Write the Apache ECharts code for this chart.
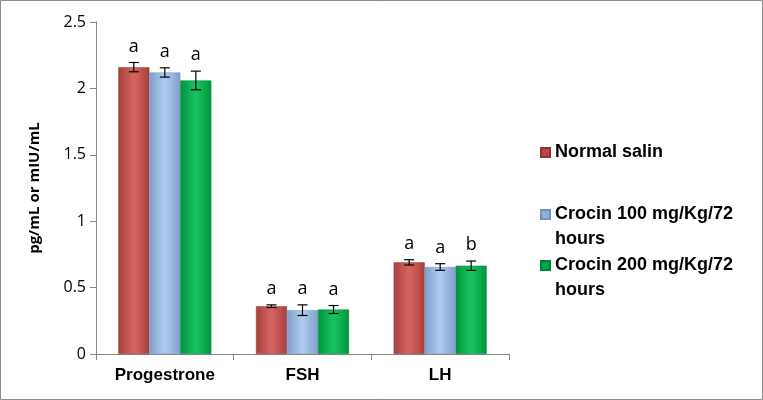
<!DOCTYPE html>
<html>
<head>
<meta charset="utf-8">
<script src="https://cdn.jsdelivr.net/npm/echarts@6/dist/echarts.min.js"></script>
<style>
  html, body { margin: 0; padding: 0; background: #fff; }
  #chart { width: 763px; height: 400px; }
</style>
</head>
<body>
<div id="chart"></div>
<script>
// hormone groups
const categories = ['Progestrone', 'FSH', 'LH'];
const seriesNames = ['Normal salin', 'Crocin 100 mg/Kg/72\nhours', 'Crocin 200 mg/Kg/72\nhours'];

const salinValues = [2.16, 0.36, 0.69];
const crocin100Values = [2.12, 0.33, 0.655];
const crocin200Values = [2.06, 0.335, 0.665];

const salinErrors = [0.035, 0.01, 0.02];
const crocin100Errors = [0.035, 0.04, 0.025];
const crocin200Errors = [0.07, 0.03, 0.035];

const salinLetters = ['a', 'a', 'a'];
const crocin100Letters = ['a', 'a', 'a'];
const crocin200Letters = ['a', 'a', 'b'];

const yTicks = [0, 0.5, 1, 1.5, 2, 2.5];

const values = [salinValues, crocin100Values, crocin200Values];
const errors = [salinErrors, crocin100Errors, crocin200Errors];
const letters = [salinLetters, crocin100Letters, crocin200Letters];

const BAR_W = 31;

function barGradient(edge, mid) {
  return new echarts.graphic.LinearGradient(0, 0, 1, 0, [
    {offset: 0, color: edge},
    {offset: 0.45, color: mid},
    {offset: 0.55, color: mid},
    {offset: 1, color: edge}
  ]);
}
const colors = [
  barGradient('#a63f3c', '#d2625e'),
  barGradient('#7f9ec9', '#aac8f0'),
  barGradient('#00953c', '#16c05e')
];
const borderColors = ['#8f3532', '#7391bb', '#00843a'];
const legendColors = ['#b8474a', '#8fb0da', '#05a54a'];

const chart = echarts.init(document.getElementById('chart'));

let series = [];
values.forEach((vals, i) => {
  series.push({
    name: seriesNames[i],
    type: 'bar',
    barWidth: BAR_W,
    barGap: '0%',
    itemStyle: {color: colors[i], borderColor: borderColors[i], borderWidth: 0.5},
    data: vals
  });
});
values.forEach((vals, i) => {
  series.push({
    type: 'custom',
    silent: true,
    z: 5,
    data: vals.map((v, k) => [k, v, errors[i][k], letters[i][k]]),
    encode: {x: 0, y: 1},
    renderItem: function (params, api) {
      const k = api.value(0);
      const v = api.value(1);
      const e = api.value(2);
      const c = api.coord([k, v]);
      const x = c[0] + (i - 1) * BAR_W;
      const top = api.coord([k, v + e])[1];
      const bot = api.coord([k, v - e])[1];
      const style = {stroke: '#000', lineWidth: 1.2};
      return {
        type: 'group',
        children: [
          {type: 'line', shape: {x1: x, y1: top, x2: x, y2: bot}, style: style},
          {type: 'line', shape: {x1: x - 5, y1: top, x2: x + 5, y2: top}, style: style},
          {type: 'line', shape: {x1: x - 5, y1: bot, x2: x + 5, y2: bot}, style: style},
          {type: 'text', x: x, y: top - 7, style: {
            text: letters[i][k], fill: '#000', font: '18px "Open Sans"',
            align: 'center', verticalAlign: 'bottom'
          }}
        ]
      };
    }
  });
});

function legendItem(i, top, twoLines) {
  return {
    data: [{name: seriesNames[i], itemStyle: {color: legendColors[i]}}],
    orient: 'vertical',
    left: 540,
    top: top,
    padding: 0,
    itemWidth: 9,
    itemHeight: 9,
    itemGap: 0,
    icon: 'rect',
    selectedMode: false,
    // blank first line keeps the marker level with the first text line
    formatter: twoLines ? (name => ' \n' + name) : null,
    textStyle: {
      fontFamily: 'Liberation Sans', fontWeight: 'bold', fontSize: 18,
      color: '#000', lineHeight: 25
    }
  };
}

chart.setOption({
  animation: false,
  graphic: [{
    type: 'rect',
    shape: {x: 0.5, y: 0.5, width: 762, height: 399},
    style: {fill: 'none', stroke: '#8c8c8c', lineWidth: 1}
  }],
  legend: [
    legendItem(0, 140, false),
    legendItem(1, 177, true),
    legendItem(2, 228, true)
  ],
  grid: {left: 96, right: 254, top: 22, bottom: 46},
  xAxis: {
    type: 'category',
    data: categories,
    axisLine: {lineStyle: {color: '#868686'}},
    axisTick: {show: true, length: 6, lineStyle: {color: '#868686'}},
    axisLabel: {
      interval: 0, hideOverlap: false,
      color: '#000', fontFamily: 'Liberation Sans', fontWeight: 'bold',
      fontSize: 17, margin: 13
    }
  },
  yAxis: {
    type: 'value',
    min: yTicks[0],
    max: yTicks[yTicks.length - 1],
    interval: 0.5,
    name: 'pg/mL or mIU/mL',
    nameLocation: 'middle',
    nameGap: 54,
    nameTextStyle: {
      color: '#000', fontFamily: 'Open Sans', fontWeight: 'bold', fontSize: 15
    },
    axisLine: {show: true, lineStyle: {color: '#868686'}},
    axisTick: {show: true, length: 6, lineStyle: {color: '#868686'}},
    splitLine: {show: false},
    axisLabel: {color: '#000', fontFamily: 'Open Sans', fontSize: 16, margin: 10}
  },
  series: series
});
</script>
</body>
</html>
